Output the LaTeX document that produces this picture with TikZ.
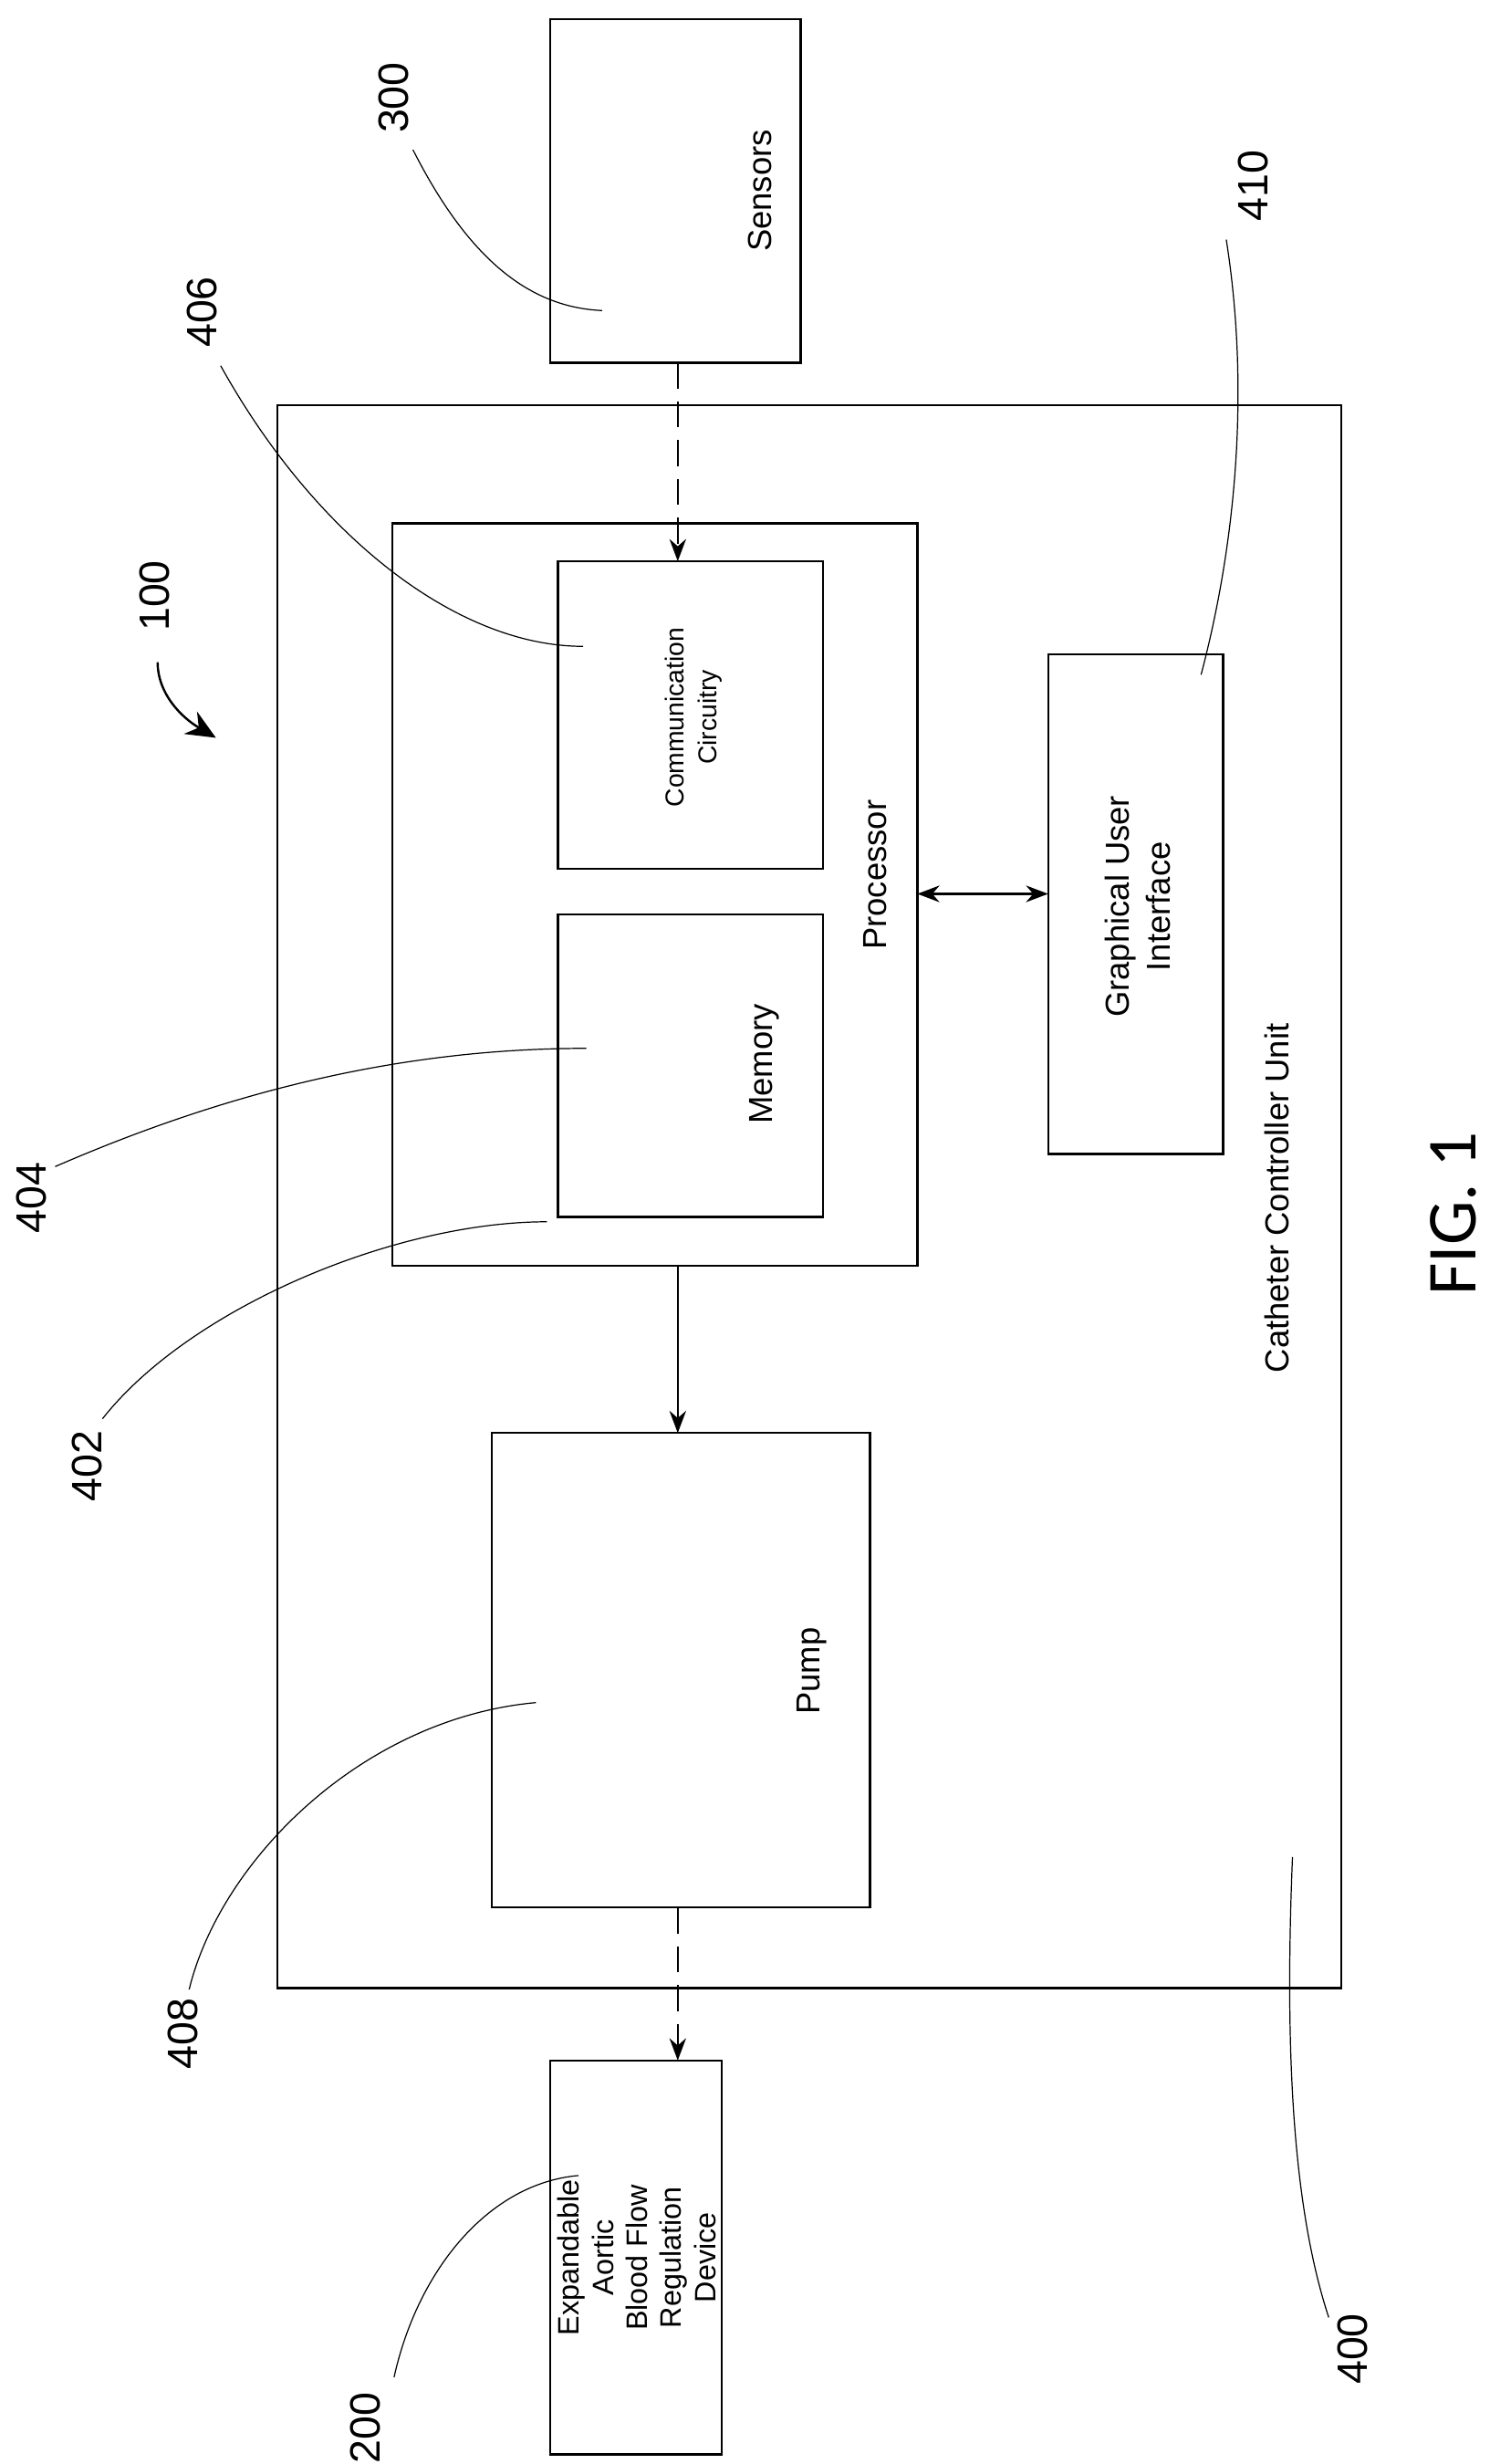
\documentclass[tikz,border=0pt]{standalone}
\usepackage{fontspec}
\setmainfont{Liberation Sans}
\newfontfamily\figfont{Carlito}
\usetikzlibrary{arrows.meta}
\begin{document}
\begin{tikzpicture}[x=0.03cm,y=-0.03cm,
    box/.style={draw, line width=1.2pt},
    txt/.style={rotate=90, align=center, font=\fontsize{18}{22}\selectfont},
    num/.style={rotate=90, font=\fontsize{23}{25}\selectfont},
    lead/.style={line width=0.6pt},
    flow/.style={line width=1.2pt, -{Stealth[length=12pt,width=9pt]}}]
  \useasboundingbox (0,0) rectangle (945,1563);
  % blocks
  \draw[box] (349,12) rectangle (508,230);
  \node[txt] at (482,121) {Sensors};
  \draw[box] (176,257) rectangle (851,1261);
  \node[txt] at (810,760) {Catheter Controller Unit};
  \draw[box] (249,332) rectangle (582,803);
  \node[txt] at (555,555) {Processor};
  \draw[box] (354,356) rectangle (522,551);
  \node[txt, font=\fontsize{14}{18}\selectfont] at (440,455) {Communication\\Circuitry};
  \draw[box] (354,580) rectangle (522,772);
  \node[txt] at (485,675) {Memory};
  \draw[box] (665,415) rectangle (776,732);
  \node[txt] at (722,575) {Graphical User\\Interface};
  \draw[box] (312,909) rectangle (552,1210);
  \node[txt] at (515,1060) {Pump};
  \draw[box] (349,1307) rectangle (458,1557);
  \node[txt, font=\fontsize{16}{18.5}\selectfont] at (404,1432) {Expandable\\Aortic\\Blood Flow\\Regulation\\Device};
  % connection points
  \coordinate (sensB) at (430,230);
  \coordinate (commT) at (430,356);
  \coordinate (procR) at (582,567);
  \coordinate (guiL) at (665,567);
  \coordinate (procB) at (430,803);
  \coordinate (pumpT) at (430,909);
  \coordinate (pumpB) at (430,1210);
  \coordinate (devT) at (430,1307);
  \draw[flow, dash pattern=on 14pt off 7pt] (sensB) -- (commT);
  \draw[line width=1.2pt, {Stealth[length=12pt,width=9pt]}-{Stealth[length=12pt,width=9pt]}] (procR) -- (guiL);
  \draw[flow] (procB) -- (pumpT);
  \draw[flow, dash pattern=on 14pt off 7pt] (pumpB) -- (devT);
  % reference numerals
  \node[num] (n300) at (250,62) {300};
  \draw[lead] (262,95) .. controls (300,170) and (340,195) .. (382,197);
  \node[num] (n406) at (128,198) {406};
  \draw[lead] (140,232) .. controls (200,340) and (290,410) .. (370,410);
  \node[num] (n410) at (795,118) {410};
  \draw[lead] (778,152) .. controls (795,260) and (780,360) .. (762,428);
  \node[num] (n100) at (98,378) {100};
  \draw[line width=1.2pt, -{Stealth[length=16pt,width=14pt]}] (100,420) .. controls (100,440) and (115,455) .. (137,468);
  \node[num] (n404) at (20,760) {404};
  \draw[lead] (35,740) .. controls (150,690) and (260,665) .. (372,665);
  \node[num] (n402) at (55,930) {402};
  \draw[lead] (65,900) .. controls (120,830) and (250,775) .. (347,775);
  \node[num] (n408) at (116,1290) {408};
  \draw[lead] (120,1262) .. controls (140,1180) and (230,1090) .. (340,1080);
  \node[num] (n200) at (232,1540) {200};
  \draw[lead] (250,1508) .. controls (265,1440) and (310,1385) .. (367,1380);
  \node[num] (n400) at (858,1490) {400};
  \draw[lead] (843,1470) .. controls (820,1400) and (815,1300) .. (820,1178);
  \node[rotate=90, font=\figfont\fontsize{38}{40}\selectfont] at (922,770) {FIG. 1};
\end{tikzpicture}
\end{document}
